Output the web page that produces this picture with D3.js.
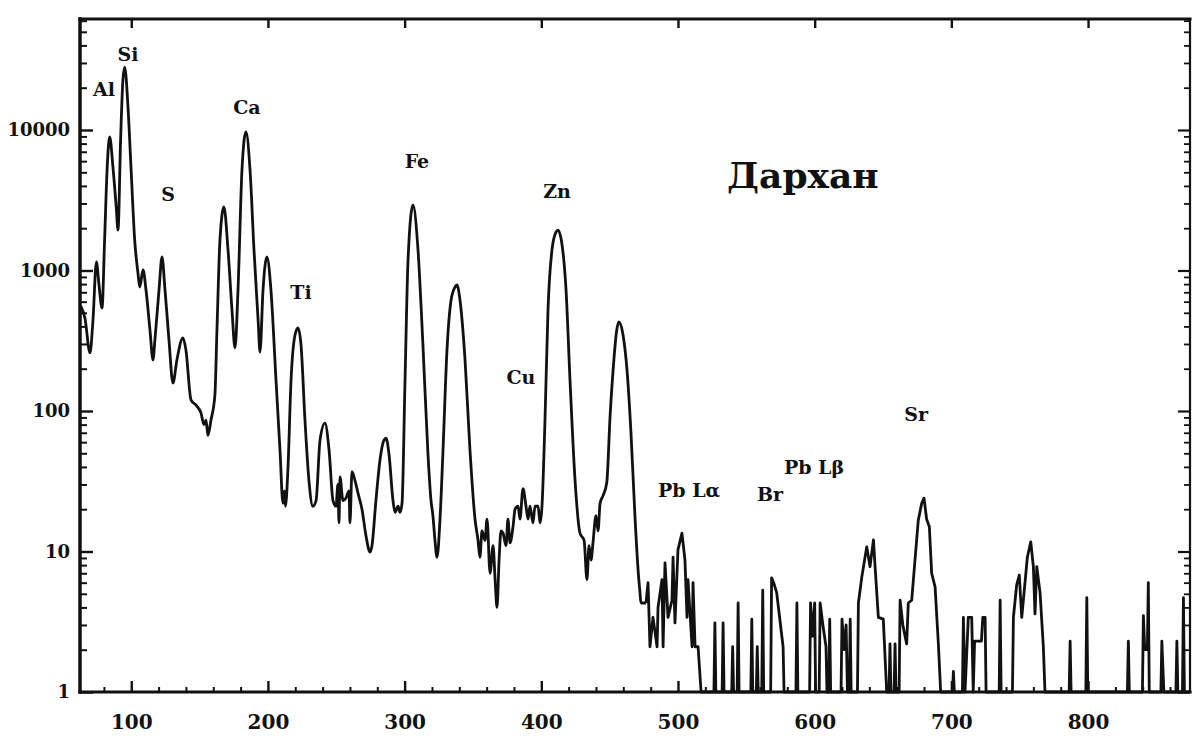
<!DOCTYPE html>
<html>
<head>
<meta charset="utf-8">
<script src="https://cdn.jsdelivr.net/npm/d3@7"></script>
<style>
  html, body { margin: 0; padding: 0; background: #fff; }
  svg { display: block; }
</style>
</head>
<body>
<svg id="chart" width="1192" height="740"></svg>
<script>
// ---------- DATA (channel, counts) ----------
const lightElements = [
  [63,560],[66.1,459],[69.8,259],[72.0,444],[74.5,1150],[76.4,789],[78.6,541],
  [80.5,1650],[82.4,5450],[84.2,8920],[86.6,5450],[89.0,2830],[90.3,1940],
  [92.2,8490],[93.9,22700],[95.2,28000],[97.6,14600],[100.0,4940],[102.5,1650],
  [104.9,960],[106.2,763],[108.6,1008],[110.8,726],[113.7,377],[115.9,231],
  [117.3,320],[120.3,726],[122.5,1248],[124.7,726],[127.6,320],[130.5,158],
  [133.4,231],[137.8,331],[140.0,272],[143.7,120],[147.4,110],[151.0,97],
  [153.2,80],[154.7,86],[156.1,67],[158.3,86],[161.2,130],[162.7,377],
  [164.9,1650],[167.8,2830],[170.8,1400],[173.7,523],[175.9,281],[178.1,726],
  [181.0,5190],[183.9,9680],[186.9,5190],[189.8,1400],[192.8,444],[194.2,263],
  [196.4,726],[199.3,1248],[202.2,726],[205.9,166],[208.8,53],[211.0,22],
  [212.1,27],[212.8,21],[214.6,38],[216.9,166],[219.8,347],[222.0,390],
  [224.2,295],[227.1,86],[230.0,32],[232.9,21],[235.2,23],[238.1,62],
  [241.7,82],[244.7,53],[247.6,23],[249.8,21],[251.2,30],[252.0,16],
  [252.7,34],[254.9,23],[257.1,24],[259.3,27],[260.0,16],[261.5,37],
  [263.7,32],[265.9,26],[268.8,20],[271.7,13],[274.7,9.9],[276.1,11],
  [279.0,23],[282.0,45],[284.9,62],[286.4,64],[288.6,49],[291.5,23],
  [293.0,19],[295.2,21],[296.6,19],[298.1,22]
];
const transitionMetals = [
  [300.3,166],[302.5,1188],[306.1,2925],[309.8,1400],[313.4,295],[317.1,49],
  [319.3,23],[320.7,18],[322.2,12],[323.7,9.1],[325.9,17],[328.1,53],
  [331.0,272],[334.0,617],[336.9,763],[338.3,789],[340.5,617],[344.2,231],
  [347.8,53],[351.5,17],[353.7,12],[355.1,9.1],[356.6,14],[358.8,12],
  [360.3,17],[362.5,7.0],[364.7,11],[366.2,6.3],[367.6,4.0],[369.1,8.7],
  [370.5,14],[372.0,13.5],[374.2,11],[375.6,17],[377.1,11.5],[379.3,15],
  [380.8,20],[383.0,21],[384.4,17],[386.6,28],[388.8,21],[390.3,17],
  [391.7,21],[393.9,16],[395.4,21],[397.6,21],[399.1,16],[400.5,21],
  [402.7,86],[404.9,523],[407.8,1400],[410.8,1880],[412.2,1940],[415.2,1520],
  [418.1,726],[421.0,166],[424.7,32],[428.3,13.5],[431.3,12],[433.4,6.3],
  [434.9,11],[436.4,8.7],[437.8,11.5],[440.0,18],[441.5,14],[443.0,22],
  [445.2,25],[447.9,31],[450.3,91],[452.7,206],[455.2,377],[456.8,430],
  [459.8,347],[462.7,196],[465.5,73],[468.5,18],[470.8,7.4],[472.2,5.1],
  [472.9,4.3],[476.6,4.3]
];
const leadRegion = [
  [478.1,6.0],[479.5,2.1],[481.7,3.4],[484.7,2.1],[485.4,4.0],[488.3,6.3],
  [489.1,2.1],[490.5,8.3],[492.7,3.4],[495.6,4.5],[496.4,9.1],[497.8,3.1],
  [500.0,10.3],[502.9,13.5],[505.1,8.7],[506.6,3.4],[507.3,6.3],[510.3,2.1],
  [511.0,6.0],[512.5,2.1],[514.7,2.1],[516.9,1],
  [526.3,1],[527.0,3.1],[527.7,1],[532.3,1],[533.0,3.1],[533.7,1],
  [539.3,1],[540.0,2.1],[540.7,1],[543.3,1],[544.0,4.3],[544.7,1],
  [553.3,1],[554.0,3.3],[554.7,1],[557.3,1],[558.0,2.1],[558.7,1],
  [561.3,1],[562.0,5.3],[562.7,1],[567.8,1],[568.5,6.5],[570.0,6.0],
  [572.2,5.1],[576.9,2.1],[577.6,1],[586.3,1],[587.0,4.3],[587.7,1],
  [596.3,1],[597.0,4.3],[598.5,2.5],[600.0,4.3],[600.7,1],[603.3,1],
  [604.0,4.3],[606.0,3.0],[608.3,2.1],[609.0,1],[610.3,1],[611.0,3.3],
  [611.7,1],[619.3,1],[620.0,3.3],[621.5,2.0],[623.0,3.0],[624.0,1],
  [625.3,1],[626.0,3.3],[626.7,1],[631.3,1],[632.0,4.3],[634.5,6.6],
  [638.1,10.8],[640.5,7.8],[643.0,12.1],[644.2,7.8],[646.6,3.4],[650.2,3.3],
  [652.7,1],[654.4,1],[655.1,2.2],[655.8,1],[658.1,1],[658.8,2.2],[659.5,1],
  [661.8,1],[662.5,4.5],[664.5,3.0],[667.3,2.2],[668.5,4.3]
];
const heavyTail = [
  [671.0,4.5],[673.4,8.7],[675.8,16.7],[678.3,22],[680.0,24],[681.9,17],
  [683.9,15],[685.6,7],[688.1,5.6],[690.5,2.2],[692.2,1],
  [700.8,1],[701.5,1.4],[702.2,1],[708.1,1],[708.8,3.4],[710.0,1],
  [712.4,3.4],[714.9,3.4],[716.0,1],[717.0,2.3],[722.0,2.3],[723.0,3.4],
  [724.7,3.4],[725.4,1],[735.0,1],[735.7,4.5],[736.4,1],[744.7,1],
  [745.4,3.4],[747.8,5.8],[749.7,6.8],[751.5,3.4],[753.2,5.1],[755.6,9.1],
  [758.1,11.7],[760.0,7.8],[761.2,3.6],[762.5,7.8],[764.9,5.1],[767.3,2.1],
  [768.5,1],[786.2,1],[786.9,2.3],[787.6,1],[798.4,1],[799.1,4.7],[799.8,1],
  [828.8,1],[829.5,2.3],[830.2,1],[839.8,1],[840.5,3.5],[841.5,2],[843.4,2],
  [844.1,6],[844.8,1],[853.3,1],[854.0,2.3],[855.5,1],[864.3,1],[865.0,2.3],
  [865.7,1],[869.1,1],[869.8,4.7],[870.5,1],[874.6,1]
];

const peakLabels   = ["Al","Si","Ca","S","Ti","Fe","Zn","Cu","Pb Lα","Br","Pb Lβ","Sr"];
const labelChannel = [80.0, 97.6, 184.6, 126.9, 224.2, 309.0, 411.5, 385.1, 508.1, 567.3, 599.5, 674.2];
const labelCount   = [17500, 31000, 13000, 3100, 630, 5370, 3300, 156, 24.4, 22.9, 35.6, 85];

const titleText = "Дархан";
const titleChannel = 535.9;
const titleCount = 3865;

const xMajorTicks = [100, 200, 300, 400, 500, 600, 700, 800];
const xMinorTicks = [80,120,140,160,180,220,240,260,280,320,340,360,380,420,440,460,480,520,540,560,580,620,640,660,680,720,740,760,780,820,840,860];
const yMajorTicks = [1, 10, 100, 1000, 10000];
const yMinorFactors = [2,3,4,5,6,7,8,9];
const yTickLabels = ["1","10","100","1000","10000"];

// ---------- LAYOUT ----------
const svg = d3.select("#chart");
const padL = 80, padR = 1190, padT = 19, padB = 692;

const x = d3.scaleLinear().domain([62.5, 874.6]).range([padL, padR]);
const y = d3.scaleLog().domain([1, 61660]).range([padB, padT]);

const yMinorTicks = [];
yMajorTicks.forEach(m => yMinorFactors.forEach(f => { if (m * f < 61660) yMinorTicks.push(m * f); }));

const fontFam = "'DejaVu Serif', 'Liberation Serif', serif";

// spectrum: smooth peaks region, then the noisy high-channel tail
const smoothPart = lightElements.concat(transitionMetals);
const noisyPart = [transitionMetals[transitionMetals.length - 1]].concat(leadRegion, heavyTail);

const smoothLine = d3.line()
  .x(d => x(d[0]))
  .y(d => y(Math.max(1, d[1])))
  .curve(d3.curveMonotoneX);
const noisyLine = d3.line()
  .x(d => x(d[0]))
  .y(d => y(Math.max(1, d[1])))
  .curve(d3.curveLinear);

svg.append("path")
  .datum(smoothPart)
  .attr("d", smoothLine)
  .attr("fill", "none")
  .attr("stroke", "#111")
  .attr("stroke-width", 2.8)
  .attr("stroke-linejoin", "round");
svg.append("path")
  .datum(noisyPart)
  .attr("d", noisyLine)
  .attr("fill", "none")
  .attr("stroke", "#111")
  .attr("stroke-width", 2.8)
  .attr("stroke-linejoin", "round");

// axes
function styleAxis(g, w) {
  g.select(".domain").remove();
  g.selectAll(".tick line").attr("stroke", "#111").attr("stroke-width", w);
}

// left
const gL = svg.append("g").attr("transform", `translate(${padL},0)`);
gL.call(d3.axisLeft(y).tickValues(yMajorTicks).tickSize(-13).tickPadding(10)
  .tickFormat((d, i) => yTickLabels[i]));
styleAxis(gL, 2.4);
gL.selectAll(".tick text").attr("font-family", fontFam).attr("font-weight", "bold")
  .attr("font-size", 18).attr("fill", "#111");
const gLm = svg.append("g").attr("transform", `translate(${padL},0)`);
gLm.call(d3.axisLeft(y).tickValues(yMinorTicks).tickSize(-7).tickFormat(""));
styleAxis(gLm, 2);

// right
const gR = svg.append("g").attr("transform", `translate(${padR},0)`);
gR.call(d3.axisRight(y).tickValues(yMajorTicks).tickSize(-12).tickFormat(""));
styleAxis(gR, 2.2);
const gRm = svg.append("g").attr("transform", `translate(${padR},0)`);
gRm.call(d3.axisRight(y).tickValues(yMinorTicks).tickSize(-6).tickFormat(""));
styleAxis(gRm, 1.8);

// bottom
const gB = svg.append("g").attr("transform", `translate(0,${padB})`);
gB.call(d3.axisBottom(x).tickValues(xMajorTicks).tickSize(-11).tickPadding(23));
styleAxis(gB, 2.4);
gB.selectAll(".tick text").attr("font-family", fontFam).attr("font-weight", "bold")
  .attr("font-size", 20).attr("fill", "#111");
const gBm = svg.append("g").attr("transform", `translate(0,${padB})`);
gBm.call(d3.axisBottom(x).tickValues(xMinorTicks).tickSize(-5).tickFormat(""));
styleAxis(gBm, 2);

// top
const gT = svg.append("g").attr("transform", `translate(0,${padT})`);
gT.call(d3.axisTop(x).tickValues(xMajorTicks).tickSize(-9).tickFormat(""));
styleAxis(gT, 2.4);

// frame
const frame = svg.append("g").attr("stroke", "#111").attr("stroke-linecap", "square");
frame.append("line").attr("x1", padL).attr("x2", padL).attr("y1", padT).attr("y2", padB).attr("stroke-width", 3.5);
frame.append("line").attr("x1", padL).attr("x2", padR).attr("y1", padB).attr("y2", padB).attr("stroke-width", 3.2);
frame.append("line").attr("x1", padL).attr("x2", padR).attr("y1", padT).attr("y2", padT).attr("stroke-width", 3);
frame.append("line").attr("x1", padR).attr("x2", padR).attr("y1", padT).attr("y2", padB).attr("stroke-width", 2.2);

// peak labels
svg.append("g").selectAll("text")
  .data(peakLabels)
  .join("text")
  .attr("x", (d, i) => x(labelChannel[i]))
  .attr("y", (d, i) => y(labelCount[i]))
  .attr("text-anchor", "middle")
  .attr("font-family", fontFam)
  .attr("font-weight", "bold")
  .attr("font-size", 19)
  .attr("fill", "#111")
  .text(d => d);

// title
svg.append("text")
  .attr("x", x(titleChannel))
  .attr("y", y(titleCount))
  .attr("font-family", fontFam)
  .attr("font-weight", "bold")
  .attr("font-size", 36)
  .attr("fill", "#111")
  .text(titleText);
</script>
</body>
</html>
